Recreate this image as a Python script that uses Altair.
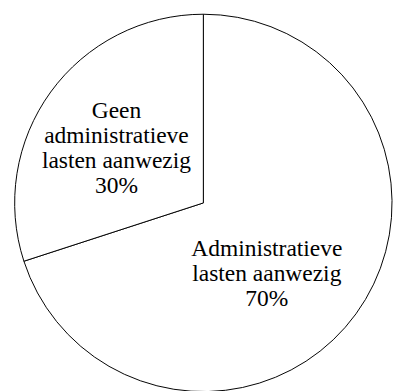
import altair as alt
import pandas as pd

categories = ["Administratieve lasten aanwezig", "Geen administratieve lasten aanwezig"]
labels = ["Administratieve\nlasten aanwezig\n70%", "Geen\nadministratieve\nlasten aanwezig\n30%"]
shares = [70, 30]
order = [1, 2]

df = pd.DataFrame({"category": categories, "label": labels, "share": shares, "order": order})

CX, CY, R = 208, 203, 193

pie = alt.Chart(df).mark_arc(
    outerRadius=R, fill="white", stroke="black", strokeWidth=1
).encode(
    theta=alt.Theta("share:Q", stack=True, scale=alt.Scale(domain=[0, 100])),
    order=alt.Order("order:Q"),
    x=alt.value(CX),
    y=alt.value(CY),
)

text_base = alt.Chart(df).transform_window(
    cum="sum(share)", sort=[alt.SortField("order")], frame=[None, 0]
).transform_calculate(mid="datum.cum - datum.share / 2")


def label_layer(cat, radius, dx, dy):
    return text_base.transform_filter(alt.datum.category == cat).mark_text(
        radius=radius, dx=dx, dy=dy, font="Liberation Serif", fontSize=24,
        lineHeight=25.5, lineBreak="\n", align="center", baseline="middle", color="black"
    ).encode(
        theta=alt.Theta("mid:Q", stack=False, scale=alt.Scale(domain=[0, 100])),
        text="label:N",
        x=alt.value(CX),
        y=alt.value(CY),
    )


chart = alt.layer(
    pie,
    label_layer(categories[0], 100, -16, -11),
    label_layer(categories[1], 100, -8, -35),
).resolve_scale(theta="independent").properties(
    width=394, height=391, padding=0, background="white"
).configure_view(stroke=None)

chart.save("out.html", embed_options={"renderer": "svg", "actions": False})
